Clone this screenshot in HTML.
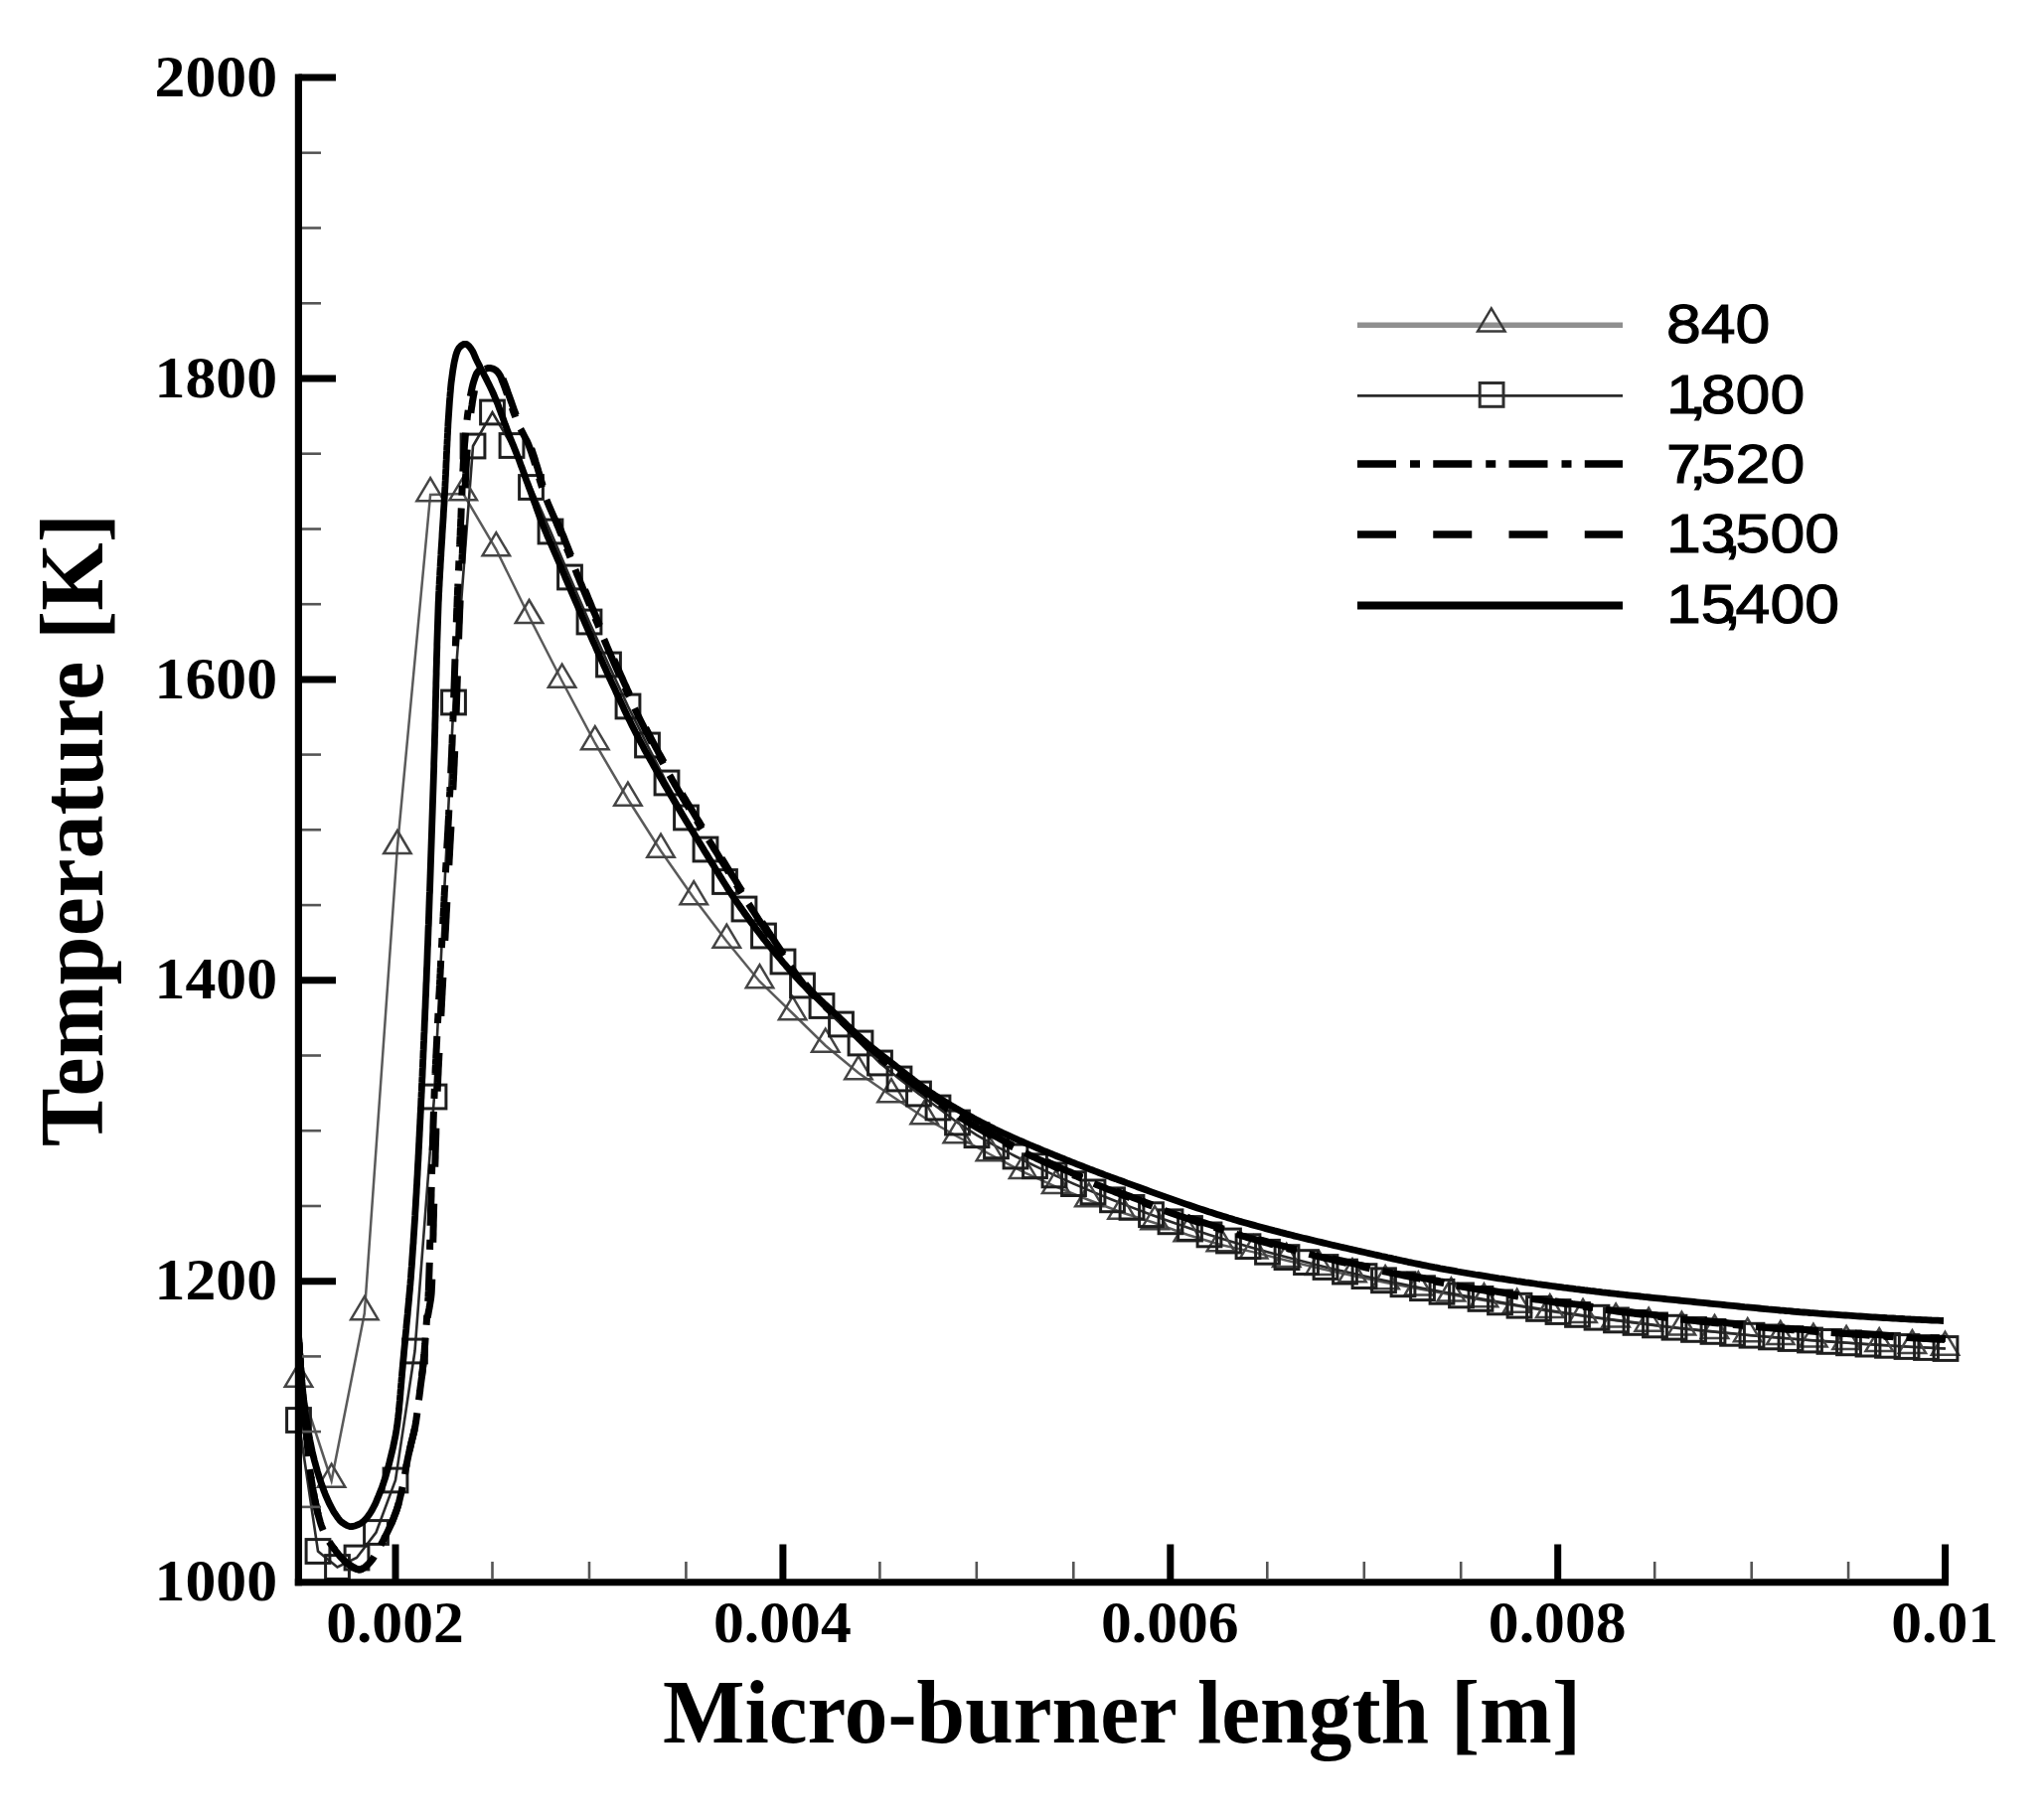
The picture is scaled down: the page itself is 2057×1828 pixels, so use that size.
<!DOCTYPE html>
<html lang="en">
<head>
<meta charset="utf-8">
<title>Temperature along micro-burner length</title>
<style>html,body{margin:0;padding:0;background:#fff}svg{display:block}</style>
</head>
<body>
<svg width="2057" height="1828" viewBox="0 0 2057 1828">
<rect width="2057" height="1828" fill="#fff"/>
<g fill="none" stroke-linejoin="miter">
<polyline points="300.5,1389.5 333.6,1490.5 366.8,1322 399.9,852.8 433.1,498 466.2,497 499.3,553 532.5,620.8 565.6,685.5 598.8,748 631.9,804.5 665,856.5 698.2,904 731.3,947.5 764.5,988 797.6,1020 830.7,1052.5 863.9,1080 897,1103 930.2,1125 963.3,1144 996.4,1162 1029.6,1179.7 1062.7,1194.7 1095.9,1208 1129,1220.5 1162.1,1231 1195.3,1243 1228.4,1253 1261.6,1260.4 1294.7,1268.8 1327.8,1276.7 1361,1284.1 1394.1,1291 1427.3,1297.3 1460.4,1303.3 1493.5,1309.1 1526.7,1314.6 1559.8,1319.9 1593,1324.7 1626.1,1329.2 1659.2,1333.5 1692.4,1337.4 1725.5,1340.8 1758.7,1344 1791.8,1346.8 1824.9,1349.4 1858.1,1351.7 1891.2,1353.9 1924.4,1355.9 1957.5,1357.6" stroke="#5a5a5a" stroke-width="2.5"/>
<polyline points="300.5,1429.5 320,1561.5 339.5,1577.5 359,1568 378.5,1542.5 398,1490 417.5,1360 437,1104 456.5,707 476,449 495.5,415 515,448.5 534.5,490.5 554,535 573.5,581 593,626 612.5,669 632,711 651.5,750 671,788 690.5,823 710,855 729.5,887.5 749,915 768.5,942 788,968 807.5,992 827,1012.5 846.5,1031 866,1050 885.5,1070 905,1086 924.5,1101 944,1115 963.5,1130 983,1142.7 1002.5,1153.8 1022,1164 1041.5,1173.7 1061,1182.9 1080.5,1191.6 1100,1199.9 1119.5,1207.8 1139,1215.4 1158.5,1222.7 1178,1229.8 1197.5,1236.5 1217,1242.9 1236.5,1249 1256,1254.7 1275.5,1260.3 1295,1265.6 1314.5,1270.6 1334,1275.5 1353.5,1280.1 1373,1284.6 1392.5,1288.8 1412,1292.8 1431.5,1296.7 1451,1300.3 1470.5,1303.9 1490,1307.4 1509.5,1310.9 1529,1314.2 1548.5,1317.4 1568,1320.5 1587.5,1323.4 1607,1326.2 1626.5,1328.9 1646,1331.4 1665.5,1333.9 1685,1336.2 1704.5,1338.4 1724,1340.4 1743.5,1342.3 1763,1344.2 1782.5,1345.9 1802,1347.5 1821.5,1349 1841,1350.4 1860.5,1351.8 1880,1353.1 1899.5,1354.3 1919,1355.5 1938.5,1356.5 1958,1357.5" stroke="#2a2a2a" stroke-width="2.6"/>
</g>
<g fill="none" stroke="#444" stroke-width="2.5">
<path d="M300.5 1372.7L314.2 1395.7L286.8 1395.7Z"/>
<path d="M333.6 1473.7L347.3 1496.7L319.9 1496.7Z"/>
<path d="M366.8 1305.2L380.5 1328.2L353.1 1328.2Z"/>
<path d="M399.9 836L413.6 859L386.2 859Z"/>
<path d="M433.1 481.2L446.8 504.2L419.4 504.2Z"/>
<path d="M466.2 480.2L479.9 503.2L452.5 503.2Z"/>
<path d="M499.3 536.2L513 559.2L485.6 559.2Z"/>
<path d="M532.5 604L546.2 627L518.8 627Z"/>
<path d="M565.6 668.7L579.3 691.7L551.9 691.7Z"/>
<path d="M598.8 731.2L612.5 754.2L585.1 754.2Z"/>
<path d="M631.9 787.7L645.6 810.7L618.2 810.7Z"/>
<path d="M665 839.7L678.7 862.7L651.3 862.7Z"/>
<path d="M698.2 887.2L711.9 910.2L684.5 910.2Z"/>
<path d="M731.3 930.7L745 953.7L717.6 953.7Z"/>
<path d="M764.5 971.2L778.2 994.2L750.8 994.2Z"/>
<path d="M797.6 1003.2L811.3 1026.2L783.9 1026.2Z"/>
<path d="M830.7 1035.7L844.4 1058.7L817 1058.7Z"/>
<path d="M863.9 1063.2L877.6 1086.2L850.2 1086.2Z"/>
<path d="M897 1086.2L910.7 1109.2L883.3 1109.2Z"/>
<path d="M930.2 1108.2L943.9 1131.2L916.5 1131.2Z"/>
<path d="M963.3 1127.2L977 1150.2L949.6 1150.2Z"/>
<path d="M996.4 1145.2L1010.1 1168.2L982.7 1168.2Z"/>
<path d="M1029.6 1162.9L1043.3 1185.9L1015.9 1185.9Z"/>
<path d="M1062.7 1177.9L1076.4 1200.9L1049 1200.9Z"/>
<path d="M1095.9 1191.2L1109.6 1214.2L1082.2 1214.2Z"/>
<path d="M1129 1203.7L1142.7 1226.7L1115.3 1226.7Z"/>
<path d="M1162.1 1214.2L1175.8 1237.2L1148.4 1237.2Z"/>
<path d="M1195.3 1226.2L1209 1249.2L1181.6 1249.2Z"/>
<path d="M1228.4 1236.2L1242.1 1259.2L1214.7 1259.2Z"/>
<path d="M1261.6 1243.6L1275.3 1266.6L1247.9 1266.6Z"/>
<path d="M1294.7 1252L1308.4 1275L1281 1275Z"/>
<path d="M1327.8 1259.9L1341.5 1282.9L1314.1 1282.9Z"/>
<path d="M1361 1267.3L1374.7 1290.3L1347.3 1290.3Z"/>
<path d="M1394.1 1274.2L1407.8 1297.2L1380.4 1297.2Z"/>
<path d="M1427.3 1280.5L1441 1303.5L1413.6 1303.5Z"/>
<path d="M1460.4 1286.5L1474.1 1309.5L1446.7 1309.5Z"/>
<path d="M1493.5 1292.3L1507.2 1315.3L1479.8 1315.3Z"/>
<path d="M1526.7 1297.8L1540.4 1320.8L1513 1320.8Z"/>
<path d="M1559.8 1303.1L1573.5 1326.1L1546.1 1326.1Z"/>
<path d="M1593 1307.9L1606.7 1330.9L1579.3 1330.9Z"/>
<path d="M1626.1 1312.4L1639.8 1335.4L1612.4 1335.4Z"/>
<path d="M1659.2 1316.7L1672.9 1339.7L1645.5 1339.7Z"/>
<path d="M1692.4 1320.6L1706.1 1343.6L1678.7 1343.6Z"/>
<path d="M1725.5 1324L1739.2 1347L1711.8 1347Z"/>
<path d="M1758.7 1327.2L1772.4 1350.2L1745 1350.2Z"/>
<path d="M1791.8 1330L1805.5 1353L1778.1 1353Z"/>
<path d="M1824.9 1332.6L1838.6 1355.6L1811.2 1355.6Z"/>
<path d="M1858.1 1334.9L1871.8 1357.9L1844.4 1357.9Z"/>
<path d="M1891.2 1337.1L1904.9 1360.1L1877.5 1360.1Z"/>
<path d="M1924.4 1339.1L1938.1 1362.1L1910.7 1362.1Z"/>
<path d="M1957.5 1340.8L1971.2 1363.8L1943.8 1363.8Z"/>
</g>
<g fill="none" stroke="#1e1e1e" stroke-width="3">
<rect x="288.6" y="1417.6" width="23.8" height="23.8"/>
<rect x="308.1" y="1549.6" width="23.8" height="23.8"/>
<rect x="327.6" y="1565.6" width="23.8" height="23.8"/>
<rect x="347.1" y="1556.1" width="23.8" height="23.8"/>
<rect x="366.6" y="1530.6" width="23.8" height="23.8"/>
<rect x="386.1" y="1478.1" width="23.8" height="23.8"/>
<rect x="405.6" y="1348.1" width="23.8" height="23.8"/>
<rect x="425.1" y="1092.1" width="23.8" height="23.8"/>
<rect x="444.6" y="695.1" width="23.8" height="23.8"/>
<rect x="464.1" y="437.1" width="23.8" height="23.8"/>
<rect x="483.6" y="403.1" width="23.8" height="23.8"/>
<rect x="503.1" y="436.6" width="23.8" height="23.8"/>
<rect x="522.6" y="478.6" width="23.8" height="23.8"/>
<rect x="542.1" y="523.1" width="23.8" height="23.8"/>
<rect x="561.6" y="569.1" width="23.8" height="23.8"/>
<rect x="581.1" y="614.1" width="23.8" height="23.8"/>
<rect x="600.6" y="657.1" width="23.8" height="23.8"/>
<rect x="620.1" y="699.1" width="23.8" height="23.8"/>
<rect x="639.6" y="738.1" width="23.8" height="23.8"/>
<rect x="659.1" y="776.1" width="23.8" height="23.8"/>
<rect x="678.6" y="811.1" width="23.8" height="23.8"/>
<rect x="698.1" y="843.1" width="23.8" height="23.8"/>
<rect x="717.6" y="875.6" width="23.8" height="23.8"/>
<rect x="737.1" y="903.1" width="23.8" height="23.8"/>
<rect x="756.6" y="930.1" width="23.8" height="23.8"/>
<rect x="776.1" y="956.1" width="23.8" height="23.8"/>
<rect x="795.6" y="980.1" width="23.8" height="23.8"/>
<rect x="815.1" y="1000.6" width="23.8" height="23.8"/>
<rect x="834.6" y="1019.1" width="23.8" height="23.8"/>
<rect x="854.1" y="1038.1" width="23.8" height="23.8"/>
<rect x="873.6" y="1058.1" width="23.8" height="23.8"/>
<rect x="893.1" y="1074.1" width="23.8" height="23.8"/>
<rect x="912.6" y="1089.1" width="23.8" height="23.8"/>
<rect x="932.1" y="1103.1" width="23.8" height="23.8"/>
<rect x="951.6" y="1118.1" width="23.8" height="23.8"/>
<rect x="971.1" y="1130.8" width="23.8" height="23.8"/>
<rect x="990.6" y="1141.9" width="23.8" height="23.8"/>
<rect x="1010.1" y="1152.1" width="23.8" height="23.8"/>
<rect x="1029.6" y="1161.8" width="23.8" height="23.8"/>
<rect x="1049.1" y="1171" width="23.8" height="23.8"/>
<rect x="1068.6" y="1179.7" width="23.8" height="23.8"/>
<rect x="1088.1" y="1188" width="23.8" height="23.8"/>
<rect x="1107.6" y="1195.9" width="23.8" height="23.8"/>
<rect x="1127.1" y="1203.5" width="23.8" height="23.8"/>
<rect x="1146.6" y="1210.8" width="23.8" height="23.8"/>
<rect x="1166.1" y="1217.9" width="23.8" height="23.8"/>
<rect x="1185.6" y="1224.6" width="23.8" height="23.8"/>
<rect x="1205.1" y="1231" width="23.8" height="23.8"/>
<rect x="1224.6" y="1237.1" width="23.8" height="23.8"/>
<rect x="1244.1" y="1242.8" width="23.8" height="23.8"/>
<rect x="1263.6" y="1248.4" width="23.8" height="23.8"/>
<rect x="1283.1" y="1253.7" width="23.8" height="23.8"/>
<rect x="1302.6" y="1258.7" width="23.8" height="23.8"/>
<rect x="1322.1" y="1263.6" width="23.8" height="23.8"/>
<rect x="1341.6" y="1268.2" width="23.8" height="23.8"/>
<rect x="1361.1" y="1272.7" width="23.8" height="23.8"/>
<rect x="1380.6" y="1276.9" width="23.8" height="23.8"/>
<rect x="1400.1" y="1280.9" width="23.8" height="23.8"/>
<rect x="1419.6" y="1284.8" width="23.8" height="23.8"/>
<rect x="1439.1" y="1288.4" width="23.8" height="23.8"/>
<rect x="1458.6" y="1292" width="23.8" height="23.8"/>
<rect x="1478.1" y="1295.5" width="23.8" height="23.8"/>
<rect x="1497.6" y="1299" width="23.8" height="23.8"/>
<rect x="1517.1" y="1302.3" width="23.8" height="23.8"/>
<rect x="1536.6" y="1305.5" width="23.8" height="23.8"/>
<rect x="1556.1" y="1308.6" width="23.8" height="23.8"/>
<rect x="1575.6" y="1311.5" width="23.8" height="23.8"/>
<rect x="1595.1" y="1314.3" width="23.8" height="23.8"/>
<rect x="1614.6" y="1317" width="23.8" height="23.8"/>
<rect x="1634.1" y="1319.5" width="23.8" height="23.8"/>
<rect x="1653.6" y="1322" width="23.8" height="23.8"/>
<rect x="1673.1" y="1324.3" width="23.8" height="23.8"/>
<rect x="1692.6" y="1326.5" width="23.8" height="23.8"/>
<rect x="1712.1" y="1328.5" width="23.8" height="23.8"/>
<rect x="1731.6" y="1330.4" width="23.8" height="23.8"/>
<rect x="1751.1" y="1332.3" width="23.8" height="23.8"/>
<rect x="1770.6" y="1334" width="23.8" height="23.8"/>
<rect x="1790.1" y="1335.6" width="23.8" height="23.8"/>
<rect x="1809.6" y="1337.1" width="23.8" height="23.8"/>
<rect x="1829.1" y="1338.5" width="23.8" height="23.8"/>
<rect x="1848.6" y="1339.9" width="23.8" height="23.8"/>
<rect x="1868.1" y="1341.2" width="23.8" height="23.8"/>
<rect x="1887.6" y="1342.4" width="23.8" height="23.8"/>
<rect x="1907.1" y="1343.6" width="23.8" height="23.8"/>
<rect x="1926.6" y="1344.6" width="23.8" height="23.8"/>
<rect x="1946.1" y="1345.6" width="23.8" height="23.8"/>
</g>
<g fill="none" stroke="#000" stroke-linejoin="round">
<polyline points="484,372 481.4,373.6 479.7,375.9 478.5,378.7 477.5,381.6 476.6,384.4 475.8,387.3 475.1,390.2 474.5,393.2 473.9,396.1 473.3,399.1 472.8,402 472.3,405 471.9,407.9 471.5,410.9 471.1,413.9 470.7,416.8 470.3,419.8 470,422.8 469.6,425.8 469.3,428.7 469,431.7 468.7,434.7 468.4,437.7 468.1,440.7 467.9,443.7 467.6,446.6 467.4,449.6 467.2,452.6 467,455.6 466.8,458.6 466.6,461.6 466.4,464.6 466.2,467.6 466.1,470.5 465.9,473.5 465.8,476.5 465.6,479.5 465.5,482.5 465.4,485.5 465.2,488.5 465.1,491.5 465,494.5 464.9,497.5 464.7,500.5 464.6,503.5 464.5,506.5 464.4,509.4 464.2,512.4 464.1,515.4 464,518.4 463.9,521.4 463.7,524.4 463.6,527.4 463.5,530.4 463.3,533.4 463.2,536.4 463.1,539.4 462.9,542.4 462.8,545.4 462.7,548.4 462.5,551.3 462.4,554.3 462.2,557.3 462.1,560.3 462,563.3 461.8,566.3 461.7,569.3 461.6,572.3 461.4,575.3 461.3,578.3 461.2,581.3 461,584.3 460.9,587.2 460.8,590.2 460.6,593.2 460.5,596.2 460.4,599.2 460.2,602.2 460.1,605.2 460,608.2 459.9,611.2 459.7,614.2 459.6,617.2 459.5,620.2 459.4,623.2 459.3,626.1 459.1,629.1 459,632.1 458.9,635.1 458.8,638.1 458.7,641.1 458.6,644.1 458.5,647.1 458.4,650.1 458.3,653.1 458.2,656.1 458.1,659.1 458,662.1 457.9,665.1 457.8,668.1 457.7,671 457.6,674 457.5,677 457.4,680 457.3,683 457.2,686 457.1,689 457,692 456.9,695 456.8,698 456.7,701 456.6,704 456.5,707 456.4,710 456.3,713 456.2,716 456.1,718.9 456,721.9 455.9,724.9 455.7,727.9 455.6,730.9 455.5,733.9 455.4,736.9 455.3,739.9 455.2,742.9 455.1,745.9 455,748.9 454.8,751.9 454.7,754.9 454.6,757.9 454.5,760.8 454.3,763.8 454.2,766.8 454.1,769.8 453.9,772.8 453.8,775.8 453.7,778.8 453.5,781.8 453.4,784.8 453.2,787.8 453.1,790.8 452.9,793.8 452.8,796.7 452.6,799.7 452.5,802.7 452.3,805.7 452.2,808.7 452,811.7 451.9,814.7 451.7,817.7 451.6,820.7 451.4,823.7 451.2,826.7 451.1,829.6 450.9,832.6 450.8,835.6 450.6,838.6 450.4,841.6 450.3,844.6 450.1,847.6 449.9,850.6 449.8,853.6 449.6,856.6 449.5,859.6 449.3,862.5 449.1,865.5 449,868.5 448.8,871.5 448.6,874.5 448.5,877.5 448.3,880.5 448.1,883.5 448,886.5 447.8,889.5 447.7,892.5 447.5,895.4 447.3,898.4 447.2,901.4 447,904.4 446.9,907.4 446.7,910.4 446.6,913.4 446.4,916.4 446.2,919.4 446.1,922.4 445.9,925.4 445.8,928.3 445.6,931.3 445.5,934.3 445.3,937.3 445.1,940.3 445,943.3 444.8,946.3 444.7,949.3 444.5,952.3 444.3,955.3 444.2,958.3 444,961.2 443.9,964.2 443.7,967.2 443.5,970.2 443.4,973.2 443.2,976.2 443.1,979.2 442.9,982.2 442.8,985.2 442.6,988.2 442.5,991.2 442.3,994.1 442.2,997.1 442,1000.1 441.8,1003.1 441.7,1006.1 441.5,1009.1 441.4,1012.1 441.2,1015.1 441.1,1018.1 440.9,1021.1 440.8,1024.1 440.6,1027.1 440.5,1030 440.3,1033 440.2,1036 440,1039 439.9,1042 439.7,1045 439.6,1048 439.4,1051 439.3,1054 439.1,1057 439,1060 438.8,1063 438.7,1065.9 438.5,1068.9 438.4,1071.9 438.2,1074.9 438.1,1077.9 438,1080.9 437.8,1083.9 437.7,1086.9 437.6,1089.9 437.4,1092.9 437.3,1095.9 437.2,1098.9 437.1,1101.8 437,1104.8 436.9,1107.8 436.8,1110.8 436.6,1113.8 436.5,1116.8 436.4,1119.8 436.3,1122.8 436.2,1125.8 436.1,1128.8 436,1131.8 435.9,1134.8 435.9,1137.8 435.8,1140.8 435.7,1143.8 435.6,1146.7 435.5,1149.7 435.4,1152.7 435.3,1155.7 435.2,1158.7 435.1,1161.7 435.1,1164.7 435,1167.7 434.9,1170.7 434.8,1173.7 434.7,1176.7 434.6,1179.7 434.5,1182.7 434.5,1185.7 434.4,1188.7 434.3,1191.7 434.2,1194.7 434.1,1197.6 434,1200.6 434,1203.6 433.9,1206.6 433.8,1209.6 433.7,1212.6 433.6,1215.6 433.5,1218.6 433.5,1221.6 433.4,1224.6 433.3,1227.6 433.2,1230.6 433.1,1233.6 433.1,1236.6 433,1239.6 432.9,1242.6 432.8,1245.6 432.8,1248.5 432.7,1251.5 432.6,1254.5 432.6,1257.5 432.5,1260.5 432.4,1263.5 432.3,1266.5 432.3,1269.5 432.2,1272.5 432.1,1275.5 432,1278.5 431.9,1281.5 431.8,1284.5 431.7,1287.5 431.6,1290.5 431.5,1293.5 431.4,1296.4 431.3,1299.4 431.1,1302.4 431,1305.4 430.8,1308.4 430.7,1311.4 430.5,1314.4 430.3,1317.4 430.1,1320.4 429.8,1323.4 429.6,1326.3 429.4,1329.3 429.2,1332.3 429,1335.3 428.8,1338.3 428.6,1341.3 428.3,1344.3 428.1,1347.3 427.9,1350.2 427.7,1353.2 427.4,1356.2 427.2,1359.2 427,1362.2 426.7,1365.2 426.4,1368.2 426.1,1371.1 425.8,1374.1 425.5,1377.1 425.2,1380.1 424.8,1383 424.5,1386 424.1,1389 423.7,1392 423.3,1394.9 422.9,1397.9 422.5,1400.9 422.2,1403.8 421.8,1406.8 421.4,1409.8 421,1412.8 420.7,1415.7 420.3,1418.7 419.9,1421.7 419.5,1424.7 419.1,1427.6 418.7,1430.6 418.2,1433.5 417.7,1436.5 417.1,1439.4 416.4,1442.3 415.7,1445.2 415,1448.1 414.2,1451.1 413.5,1454 412.9,1456.9 412.2,1459.8 411.5,1462.7 410.9,1465.7 410.3,1468.6 409.7,1471.5 409.1,1474.5 408.6,1477.4 408.1,1480.4 407.6,1483.3 407.1,1486.3 406.5,1489.2 406,1492.2 405.4,1495.1 404.8,1498 404.2,1501 403.5,1503.9 402.8,1506.8 402.1,1509.7 401.4,1512.6 400.6,1515.5 399.7,1518.4 398.7,1521.2 397.7,1524 396.6,1526.8 395.6,1529.6 394.4,1532.4 393.2,1535.1 392,1537.9 390.7,1540.6 389.4,1543.3 388,1545.9 386.7,1548.6 385.3,1551.3 383.9,1553.9 382.5,1556.6 381.1,1559.2 379.5,1561.8 378,1564.4 376.5,1567 374.8,1569.6 373,1571.9 371,1574 368.7,1576.3 366.1,1578.4 363.5,1579.7 360.9,1579.9 358.2,1579.1 355.4,1577.6 352.7,1575.9 350.2,1574.1 347.9,1572.4 345.7,1570.4 343.6,1568.2 341.6,1565.9 339.6,1563.5 337.8,1561.1 336,1558.7 334.3,1556.3 332.5,1553.8 330.9,1551.2 329.3,1548.6 327.8,1546 326.5,1543.3 325.3,1540.6 324.2,1537.9 323.2,1535.1 322.3,1532.3 321.5,1529.4 320.7,1526.5 319.9,1523.5 319.2,1520.6 318.6,1517.6 317.9,1514.7 317.3,1511.8 316.7,1508.9 316.1,1505.9 315.6,1503 315.1,1500 314.5,1497.1 314,1494.1 313.6,1491.2 313.1,1488.2 312.7,1485.2 312.3,1482.3 311.9,1479.3 311.5,1476.3 311.2,1473.3 310.9,1470.4 310.6,1467.4 310.3,1464.4 310,1461.4 309.7,1458.4 309.4,1455.5 309.1,1452.5 308.9,1449.5 308.6,1446.5 308.3,1443.5 308.1,1440.5 307.8,1437.6 307.5,1434.6 307.2,1431.6 306.9,1428.6 306.7,1425.6 306.4,1422.6 306.1,1419.7 305.8,1416.7 305.6,1413.7 305.3,1410.7 305,1407.7 304.8,1404.7 304.5,1401.8 304.3,1398.8 304.1,1395.8 303.8,1392.8 303.6,1389.8 303.4,1386.8 303.1,1383.8 302.9,1380.9 302.7,1377.9 302.5,1374.9 302.3,1371.9 302.1,1368.9 301.9,1365.9 301.6,1362.9 301.4,1359.9 301.2,1357 301.1,1354 300.9,1351 300.7,1348 300.5,1345" stroke-width="7" stroke-dasharray="39 14 10 13" stroke-dashoffset="9"/>
<polyline points="477.5,393 477,396 476.4,398.9 475.9,401.9 475.4,404.8 475,407.8 474.5,410.7 474.1,413.7 473.7,416.7 473.4,419.6 473,422.6 472.7,425.6 472.3,428.6 472,431.6 471.7,434.5 471.4,437.5 471.1,440.5 470.9,443.5 470.6,446.5 470.4,449.5 470.2,452.5 470,455.4 469.8,458.4 469.6,461.4 469.4,464.4 469.3,467.4 469.1,470.4 468.9,473.4 468.8,476.4 468.6,479.4 468.5,482.4 468.4,485.3 468.2,488.3 468.1,491.3 468,494.3 467.9,497.3 467.7,500.3 467.6,503.3 467.5,506.3 467.4,509.3 467.3,512.3 467.1,515.3 467,518.3 466.9,521.3 466.8,524.3 466.6,527.3 466.5,530.3 466.4,533.3 466.2,536.2 466.1,539.2 465.9,542.2 465.8,545.2 465.7,548.2 465.5,551.2 465.4,554.2 465.3,557.2 465.1,560.2 465,563.2 464.8,566.2 464.7,569.2 464.6,572.2 464.4,575.2 464.3,578.2 464.2,581.1 464,584.1 463.9,587.1 463.8,590.1 463.6,593.1 463.5,596.1 463.4,599.1 463.2,602.1 463.1,605.1 463,608.1 462.9,611.1 462.7,614.1 462.6,617.1 462.5,620.1 462.4,623.1 462.3,626 462.1,629 462,632 461.9,635 461.8,638 461.7,641 461.6,644 461.5,647 461.4,650 461.3,653 461.2,656 461.1,659 461,662 460.9,665 460.8,668 460.7,671 460.6,674 460.5,677 460.4,679.9 460.3,682.9 460.2,685.9 460.1,688.9 460,691.9 459.9,694.9 459.8,697.9 459.7,700.9 459.6,703.9 459.5,706.9 459.4,709.9 459.3,712.9 459.2,715.9 459.1,718.9 459,721.9 458.9,724.9 458.7,727.9 458.6,730.9 458.5,733.8 458.4,736.8 458.3,739.8 458.2,742.8 458.1,745.8 458,748.8 457.8,751.8 457.7,754.8 457.6,757.8 457.5,760.8 457.3,763.8 457.2,766.8 457.1,769.8 456.9,772.8 456.8,775.8 456.7,778.7 456.5,781.7 456.4,784.7 456.2,787.7 456.1,790.7 455.9,793.7 455.8,796.7 455.6,799.7 455.5,802.7 455.3,805.7 455.2,808.7 455,811.7 454.9,814.7 454.7,817.6 454.6,820.6 454.4,823.6 454.2,826.6 454.1,829.6 453.9,832.6 453.8,835.6 453.6,838.6 453.4,841.6 453.3,844.6 453.1,847.6 452.9,850.6 452.8,853.5 452.6,856.5 452.5,859.5 452.3,862.5 452.1,865.5 452,868.5 451.8,871.5 451.6,874.5 451.5,877.5 451.3,880.5 451.1,883.5 451,886.5 450.8,889.5 450.7,892.4 450.5,895.4 450.3,898.4 450.2,901.4 450,904.4 449.9,907.4 449.7,910.4 449.6,913.4 449.4,916.4 449.2,919.4 449.1,922.4 448.9,925.4 448.8,928.3 448.6,931.3 448.5,934.3 448.3,937.3 448.1,940.3 448,943.3 447.8,946.3 447.7,949.3 447.5,952.3 447.3,955.3 447.2,958.3 447,961.3 446.9,964.3 446.7,967.2 446.5,970.2 446.4,973.2 446.2,976.2 446.1,979.2 445.9,982.2 445.8,985.2 445.6,988.2 445.5,991.2 445.3,994.2 445.1,997.2 445,1000.2 444.8,1003.1 444.7,1006.1 444.5,1009.1 444.4,1012.1 444.2,1015.1 444.1,1018.1 443.9,1021.1 443.8,1024.1 443.6,1027.1 443.5,1030.1 443.3,1033.1 443.2,1036.1 443,1039.1 442.9,1042.1 442.7,1045 442.6,1048 442.4,1051 442.3,1054 442.1,1057 442,1060 441.8,1063 441.7,1066 441.5,1069 441.4,1072 441.2,1075 441.1,1078 441,1081 440.8,1083.9 440.7,1086.9 440.6,1089.9 440.4,1092.9 440.3,1095.9 440.2,1098.9 440.1,1101.9 440,1104.9 439.9,1107.9 439.7,1110.9 439.6,1113.9 439.5,1116.9 439.4,1119.9 439.3,1122.9 439.2,1125.9 439.1,1128.9 439,1131.9 438.9,1134.8 438.8,1137.8 438.8,1140.8 438.7,1143.8 438.6,1146.8 438.5,1149.8 438.4,1152.8 438.3,1155.8 438.2,1158.8 438.1,1161.8 438.1,1164.8 438,1167.8 437.9,1170.8 437.8,1173.8 437.7,1176.8 437.6,1179.8 437.5,1182.8 437.5,1185.8 437.4,1188.8 437.3,1191.8 437.2,1194.7 437.1,1197.7 437,1200.7 437,1203.7 436.9,1206.7 436.8,1209.7 436.7,1212.7 436.6,1215.7 436.5,1218.7 436.5,1221.7 436.4,1224.7 436.3,1227.7 436.2,1230.7 436.2,1233.7 436.1,1236.7 436,1239.7 436,1242.7 435.9,1245.7 435.8,1248.7 435.8,1251.7 435.7,1254.7 435.7,1257.7 435.6,1260.7 435.5,1263.7 435.5,1266.7 435.4,1269.7 435.3,1272.7 435.2,1275.7 435.1,1278.7 435,1281.7 434.9,1284.7 434.8,1287.6 434.7,1290.6 434.6,1293.6 434.4,1296.6 434.3,1299.6 434.1,1302.5 433.8,1305.5 433.4,1308.5 432.9,1311.4 432.4,1314.4 431.9,1317.4 431.3,1320.3 430.8,1323.3 430.2,1326.2 429.8,1329.2 429.3,1332.2 429,1335.1 428.7,1338.1 428.4,1341.1 428.2,1344.1 428,1347.1 427.8,1350.1 427.6,1353 427.3,1356 427.1,1359 426.9,1362 426.7,1365 426.4,1368 426.2,1371 425.9,1374 425.5,1376.9 425.2,1379.9 424.8,1382.9 424.5,1385.9 424.1,1388.8 423.7,1391.8 423.3,1394.8 422.9,1397.7 422.6,1400.7 422.2,1403.7 421.8,1406.7 421.4,1409.6 421,1412.6 420.7,1415.6 420.3,1418.6 419.9,1421.5 419.5,1424.5 419.1,1427.5 418.7,1430.5 418.2,1433.4 417.7,1436.4 417.1,1439.3 416.5,1442.2 415.7,1445.1 415,1448 414.3,1450.9 413.6,1453.8 412.9,1456.8 412.2,1459.7 411.6,1462.6 410.9,1465.5 410.3,1468.5 409.7,1471.4 409.2,1474.3 408.6,1477.3 408.1,1480.2 407.6,1483.2 407.1,1486.2 406.6,1489.1 406,1492 405.4,1495 404.8,1497.9 404.2,1500.9 403.5,1503.8 402.9,1506.7 402.2,1509.6 401.4,1512.5 400.6,1515.4 399.7,1518.2 398.8,1521.1 397.7,1523.9 396.7,1526.7 395.6,1529.5 394.5,1532.3 393.3,1535 392,1537.8 390.7,1540.5 389.4,1543.2 388.1,1545.8 386.7,1548.5 385.4,1551.2 384,1553.9 382.6,1556.5 381.1,1559.1 379.6,1561.7 378.1,1564.3 376.5,1567 374.8,1569.5 373.1,1571.8 371.1,1574 368.7,1576.3 366.2,1578.3 363.6,1579.7 361,1579.9 358.3,1579.1 355.5,1577.7 352.8,1575.9 350.2,1574.2 347.9,1572.4 345.7,1570.4 343.6,1568.2 341.6,1565.9 339.7,1563.5 337.8,1561.1 336.1,1558.7 334.3,1556.3 332.6,1553.8 330.9,1551.3 329.3,1548.7 327.8,1546.1 326.5,1543.4 325.3,1540.7 324.2,1538 323.3,1535.2 322.3,1532.3 321.5,1529.4 320.7,1526.5 320,1523.6 319.3,1520.6 318.6,1517.7 318,1514.8 317.3,1511.9 316.7,1508.9 316.2,1506 315.6,1503 315.1,1500.1 314.5,1497.1 314.1,1494.2 313.6,1491.2 313.1,1488.2 312.7,1485.3 312.3,1482.3 311.9,1479.3 311.6,1476.4 311.2,1473.4 310.9,1470.4 310.6,1467.4 310.3,1464.5 310,1461.5 309.7,1458.5 309.4,1455.5 309.1,1452.5 308.9,1449.5 308.6,1446.5 308.3,1443.6 308.1,1440.6 307.8,1437.6 307.5,1434.6 307.2,1431.6 306.9,1428.6 306.7,1425.7 306.4,1422.7 306.1,1419.7 305.8,1416.7 305.6,1413.7 305.3,1410.7 305.1,1407.8 304.8,1404.8 304.5,1401.8 304.3,1398.8 304.1,1395.8 303.8,1392.8 303.6,1389.8 303.4,1386.8 303.1,1383.9 302.9,1380.9 302.7,1377.9 302.5,1374.9 302.3,1371.9 302.1,1368.9 301.9,1365.9 301.6,1362.9 301.4,1360 301.3,1357 301.1,1354 300.9,1351 300.7,1348 300.5,1345" stroke-width="7" stroke-dasharray="39 37" stroke-dashoffset="16"/>
<polyline points="488,371.5 490.9,370.6 493.9,370.6 496.8,371.4 499.3,373 501.4,375.2 503,377.6 504.3,380.3 505.4,383.2 506.5,386 507.6,388.8 508.6,391.7 509.6,394.5 510.5,397.3 511.6,400.1 512.6,403 513.6,405.8 514.6,408.6 515.6,411.4 516.6,414.3 517.7,417.1 518.7,419.9 519.8,422.7 521,425.4 522.1,428.2 523.4,430.9 524.8,433.5 526.2,436.2 527.6,438.8 529,441.5 530.4,444.2 531.6,446.9 532.7,449.7 533.7,452.5 534.7,455.3 535.6,458.1 536.6,461 537.5,463.9 538.3,466.7 539.2,469.6 540.1,472.5 540.9,475.3 541.8,478.2 542.6,481.1 543.4,484 544.3,486.8 545.2,489.7 546.2,492.5 547.2,495.4 548.2,498.2 549.2,501 550.3,503.8 551.4,506.5 552.6,509.3 553.8,512.1 555,514.8 556.2,517.6 557.4,520.3 558.6,523 559.8,525.8 560.9,528.6 562.1,531.3 563.2,534.1 564.3,536.9 565.5,539.6 566.6,542.4 567.7,545.2 568.8,548 569.9,550.8 571,553.6 572.1,556.3 573.2,559.1 574.3,561.9 575.5,564.7 576.6,567.5 577.7,570.2 578.8,573 579.9,575.8 581,578.6 582.2,581.4 583.3,584.1 584.4,586.9 585.6,589.7 586.7,592.5 587.8,595.2 589,598 590.1,600.8 591.2,603.5 592.4,606.3 593.5,609.1 594.6,611.9 595.8,614.6 596.9,617.4 598.1,620.2 599.2,622.9 600.4,625.7 601.6,628.4 602.7,631.2 603.9,634 605,636.7 606.2,639.5 607.3,642.3 608.5,645 609.7,647.8 610.8,650.5 612,653.3 613.2,656.1 614.3,658.8 615.5,661.6 616.7,664.3 617.9,667.1 619.1,669.8 620.3,672.6 621.5,675.3 622.7,678.1 623.9,680.8 625.1,683.5 626.3,686.3 627.5,689 628.8,691.7 630,694.5 631.3,697.2 632.5,699.9 633.8,702.6 635,705.3 636.3,708 637.6,710.8 638.9,713.5 640.2,716.2 641.5,718.9 642.8,721.6 644.1,724.3 645.4,726.9 646.8,729.6 648.1,732.3 649.4,735 650.8,737.6 652.2,740.3 653.5,743 654.9,745.6 656.3,748.3 657.7,750.9 659.1,753.6 660.5,756.2 661.9,758.9 663.4,761.5 664.8,764.1 666.3,766.7 667.7,769.4 669.2,772 670.6,774.6 672.1,777.2 673.6,779.8 675.1,782.4 676.5,785 678,787.6 679.5,790.2 681,792.8 682.5,795.4 684.1,798 685.6,800.5 687.1,803.1 688.7,805.7 690.2,808.2 691.8,810.8 693.3,813.4 694.9,815.9 696.5,818.5 698,821 699.6,823.6 701.2,826.1 702.8,828.7 704.3,831.2 705.9,833.8 707.5,836.3 709.1,838.8 710.7,841.4 712.2,843.9 713.8,846.5 715.4,849 717,851.6 718.5,854.1 720.1,856.7 721.7,859.2 723.3,861.8 724.8,864.3 726.4,866.9 728,869.4 729.6,872 731.1,874.5 732.7,877.1 734.3,879.6 735.9,882.2 737.5,884.7 739.1,887.2 740.7,889.8 742.2,892.3 743.8,894.8 745.4,897.4 747,899.9 748.6,902.4 750.3,905 751.9,907.5 753.5,910 755.1,912.5 756.7,915 758.4,917.6 760,920.1 761.6,922.6 763.2,925.1 764.9,927.6 766.5,930.1 768.1,932.6 769.8,935.1 771.4,937.7 773.1,940.2 774.7,942.7 776.4,945.1 778.1,947.6 779.7,950.1 781.4,952.6 783.1,955.1 784.8,957.6 786.5,960 788.2,962.5 789.9,964.9 791.6,967.4 793.4,969.8 795.1,972.3 796.9,974.7 798.6,977.1 800.4,979.6 802.1,982 803.9,984.4 805.7,986.8 807.5,989.2 809.4,991.5 811.3,993.8 813.2,996.1 815.2,998.3 817.3,1000.5 819.4,1002.6 821.5,1004.7 823.7,1006.8 825.8,1008.9 828,1011 830.2,1013 832.4,1015.1 834.6,1017.1 836.8,1019.1 839,1021.1 841.3,1023.1 843.5,1025.1 845.7,1027.1 847.9,1029.2 850.1,1031.2 852.3,1033.3 854.4,1035.4 856.6,1037.5 858.7,1039.6 860.8,1041.7 862.9,1043.8 865,1046 867.1,1048.1 869.3,1050.2 871.4,1052.3 873.6,1054.4 875.7,1056.5 877.9,1058.5 880.1,1060.5 882.4,1062.4 884.7,1064.4 887,1066.3 889.3,1068.2 891.6,1070.1 893.9,1072 896.2,1073.9 898.6,1075.7 901,1077.6 903.3,1079.4 905.7,1081.2 908.1,1083 910.5,1084.9 912.9,1086.7 915.3,1088.5 917.7,1090.3 920.1,1092.1 922.5,1093.9 924.9,1095.7 927.3,1097.5 929.7,1099.3 932.1,1101 934.5,1102.8 936.9,1104.6 939.3,1106.4 941.8,1108.1 944.2,1109.9 946.7,1111.6 949.1,1113.3 951.6,1115 954,1116.7 956.5,1118.4 959,1120 961.5,1121.6 964,1123.3 966.6,1124.9 969.1,1126.5 971.7,1128 974.2,1129.6 976.8,1131.2 979.3,1132.7 981.9,1134.2 984.5,1135.8 987.1,1137.3 989.7,1138.8 992.3,1140.2 994.9,1141.7 997.5,1143.1 1000.2,1144.6 1002.8,1146 1005.4,1147.4 1008.1,1148.8 1010.7,1150.2 1013.4,1151.5 1016.1,1152.9 1018.7,1154.3 1021.4,1155.6 1024.1,1156.9 1026.8,1158.3 1029.5,1159.6 1032.2,1160.9 1034.9,1162.2 1037.6,1163.5 1040.3,1164.7 1043,1166 1045.8,1167.3 1048.5,1168.5 1051.2,1169.8 1053.9,1171 1056.6,1172.3 1059.4,1173.5 1062.1,1174.8 1064.8,1176 1067.6,1177.2 1070.3,1178.4 1073,1179.6 1075.8,1180.8 1078.5,1182 1081.3,1183.2 1084.1,1184.3 1086.8,1185.5 1089.6,1186.7 1092.3,1187.8 1095.1,1189 1097.9,1190.1 1100.7,1191.3 1103.4,1192.4 1106.2,1193.5 1109,1194.6 1111.8,1195.8 1114.5,1196.9 1117.3,1198 1120.1,1199.1 1122.9,1200.2 1125.7,1201.3 1128.5,1202.4 1131.3,1203.4 1134.1,1204.5 1136.9,1205.6 1139.7,1206.7 1142.5,1207.7 1145.3,1208.8 1148.1,1209.9 1150.9,1210.9 1153.7,1212 1156.5,1213 1159.3,1214 1162.1,1215.1 1164.9,1216.1 1167.7,1217.1 1170.6,1218.1 1173.4,1219.1 1176.2,1220.1 1179,1221.1 1181.9,1222.1 1184.7,1223.1 1187.5,1224.1 1190.4,1225 1193.2,1226 1196,1227 1198.9,1227.9 1201.7,1228.9 1204.5,1229.8 1207.4,1230.7 1210.2,1231.7 1213.1,1232.6 1215.9,1233.5 1218.8,1234.4 1221.7,1235.3 1224.5,1236.2 1227.4,1237.1 1230.2,1238 1233.1,1238.9 1236,1239.8 1238.8,1240.7 1241.7,1241.5 1244.6,1242.4 1247.4,1243.2 1250.3,1244.1 1253.2,1244.9 1256,1245.8 1258.9,1246.6 1261.8,1247.4 1264.7,1248.2 1267.6,1249.1 1270.5,1249.9 1273.3,1250.7 1276.2,1251.5 1279.1,1252.3 1282,1253.1 1284.9,1253.9 1287.8,1254.6 1290.7,1255.4 1293.6,1256.2 1296.5,1257 1299.4,1257.7 1302.3,1258.5 1305.2,1259.2 1308.1,1260 1311,1260.7 1313.9,1261.5 1316.8,1262.2 1319.7,1262.9 1322.6,1263.7 1325.5,1264.4 1328.4,1265.1 1331.3,1265.8 1334.2,1266.5 1337.1,1267.2 1340,1267.9 1343,1268.6 1345.9,1269.3 1348.8,1270 1351.7,1270.7 1354.6,1271.4 1357.5,1272.1 1360.5,1272.7 1363.4,1273.4 1366.3,1274.1 1369.2,1274.7 1372.1,1275.4 1375.1,1276 1378,1276.7 1380.9,1277.3 1383.8,1277.9 1386.8,1278.5 1389.7,1279.2 1392.6,1279.8 1395.6,1280.4 1398.5,1281 1401.4,1281.6 1404.4,1282.2 1407.3,1282.8 1410.2,1283.4 1413.2,1284 1416.1,1284.6 1419.1,1285.2 1422,1285.8 1424.9,1286.3 1427.9,1286.9 1430.8,1287.5 1433.8,1288.1 1436.7,1288.6 1439.6,1289.2 1442.6,1289.8 1445.5,1290.3 1448.5,1290.9 1451.4,1291.4 1454.4,1292 1457.3,1292.5 1460.2,1293 1463.2,1293.6 1466.1,1294.1 1469.1,1294.7 1472,1295.2 1475,1295.7 1477.9,1296.3 1480.9,1296.8 1483.8,1297.3 1486.8,1297.9 1489.7,1298.4 1492.7,1298.9 1495.6,1299.4 1498.6,1300 1501.5,1300.5 1504.5,1301 1507.4,1301.5 1510.4,1302 1513.3,1302.5 1516.3,1303 1519.2,1303.5 1522.2,1304 1525.1,1304.5 1528.1,1305 1531.1,1305.5 1534,1306 1537,1306.5 1539.9,1307 1542.9,1307.5 1545.8,1308 1548.8,1308.4 1551.8,1308.9 1554.7,1309.4 1557.7,1309.9 1560.6,1310.3 1563.6,1310.8 1566.5,1311.2 1569.5,1311.7 1572.5,1312.1 1575.4,1312.6 1578.4,1313 1581.4,1313.5 1584.3,1313.9 1587.3,1314.3 1590.2,1314.8 1593.2,1315.2 1596.2,1315.6 1599.1,1316 1602.1,1316.5 1605.1,1316.9 1608,1317.3 1611,1317.7 1614,1318.1 1616.9,1318.5 1619.9,1318.9 1622.9,1319.4 1625.8,1319.8 1628.8,1320.2 1631.8,1320.6 1634.7,1321 1637.7,1321.4 1640.7,1321.7 1643.7,1322.1 1646.6,1322.5 1649.6,1322.9 1652.6,1323.3 1655.5,1323.7 1658.5,1324 1661.5,1324.4 1664.5,1324.8 1667.4,1325.2 1670.4,1325.5 1673.4,1325.9 1676.4,1326.2 1679.3,1326.6 1682.3,1326.9 1685.3,1327.3 1688.3,1327.6 1691.2,1328 1694.2,1328.3 1697.2,1328.6 1700.2,1329 1703.1,1329.3 1706.1,1329.6 1709.1,1329.9 1712.1,1330.2 1715.1,1330.5 1718,1330.8 1721,1331.1 1724,1331.4 1727,1331.7 1730,1332 1732.9,1332.3 1735.9,1332.6 1738.9,1332.9 1741.9,1333.2 1744.9,1333.5 1747.8,1333.8 1750.8,1334 1753.8,1334.3 1756.8,1334.6 1759.8,1334.9 1762.8,1335.1 1765.7,1335.4 1768.7,1335.7 1771.7,1335.9 1774.7,1336.2 1777.7,1336.5 1780.7,1336.7 1783.6,1337 1786.6,1337.2 1789.6,1337.5 1792.6,1337.7 1795.6,1338 1798.6,1338.2 1801.6,1338.4 1804.6,1338.7 1807.5,1338.9 1810.5,1339.2 1813.5,1339.4 1816.5,1339.6 1819.5,1339.8 1822.5,1340.1 1825.5,1340.3 1828.4,1340.5 1831.4,1340.7 1834.4,1341 1837.4,1341.2 1840.4,1341.4 1843.4,1341.6 1846.4,1341.8 1849.4,1342 1852.3,1342.2 1855.3,1342.4 1858.3,1342.6 1861.3,1342.8 1864.3,1343 1867.3,1343.3 1870.3,1343.5 1873.3,1343.6 1876.2,1343.8 1879.2,1344 1882.2,1344.2 1885.2,1344.4 1888.2,1344.6 1891.2,1344.8 1894.2,1345 1897.2,1345.2 1900.2,1345.4 1903.2,1345.5 1906.1,1345.7 1909.1,1345.9 1912.1,1346.1 1915.1,1346.2 1918.1,1346.4 1921.1,1346.6 1924.1,1346.8 1927.1,1346.9 1930.1,1347.1 1933.1,1347.3 1936.1,1347.4 1939,1347.6 1942,1347.7 1945,1347.9 1948,1348 1951,1348.2 1954,1348.3 1957,1348.5" stroke-width="7" stroke-dasharray="39 14 10 13"/>
<polyline points="489,370.5 491.9,369.6 494.9,369.6 497.8,370.4 500.3,372 502.4,374.2 504,376.6 505.3,379.3 506.4,382.2 507.5,385 508.6,387.8 509.6,390.7 510.6,393.5 511.5,396.3 512.6,399.1 513.6,402 514.6,404.8 515.6,407.6 516.6,410.4 517.6,413.3 518.7,416.1 519.7,418.9 520.8,421.7 522,424.4 523.1,427.2 524.4,429.9 525.8,432.5 527.2,435.2 528.6,437.8 530,440.5 531.4,443.2 532.6,445.9 533.7,448.7 534.7,451.5 535.7,454.3 536.6,457.1 537.6,460 538.5,462.9 539.3,465.7 540.2,468.6 541.1,471.5 541.9,474.3 542.8,477.2 543.6,480.1 544.4,483 545.3,485.8 546.2,488.7 547.2,491.5 548.2,494.4 549.2,497.2 550.2,500 551.3,502.8 552.4,505.5 553.6,508.3 554.8,511.1 556,513.8 557.2,516.6 558.4,519.3 559.6,522 560.8,524.8 561.9,527.6 563.1,530.3 564.2,533.1 565.3,535.9 566.5,538.6 567.6,541.4 568.7,544.2 569.8,547 570.9,549.8 572,552.6 573.1,555.3 574.2,558.1 575.3,560.9 576.5,563.7 577.6,566.5 578.7,569.2 579.8,572 580.9,574.8 582,577.6 583.2,580.4 584.3,583.1 585.4,585.9 586.6,588.7 587.7,591.5 588.8,594.2 590,597 591.1,599.8 592.2,602.5 593.4,605.3 594.5,608.1 595.6,610.9 596.8,613.6 597.9,616.4 599.1,619.2 600.2,621.9 601.4,624.7 602.6,627.4 603.7,630.2 604.9,633 606,635.7 607.2,638.5 608.3,641.3 609.5,644 610.7,646.8 611.8,649.5 613,652.3 614.2,655.1 615.3,657.8 616.5,660.6 617.7,663.3 618.9,666.1 620.1,668.8 621.3,671.6 622.5,674.3 623.7,677.1 624.9,679.8 626.1,682.5 627.3,685.3 628.5,688 629.8,690.7 631,693.5 632.3,696.2 633.5,698.9 634.8,701.6 636,704.3 637.3,707 638.6,709.8 639.9,712.5 641.2,715.2 642.5,717.9 643.8,720.6 645.1,723.3 646.4,725.9 647.8,728.6 649.1,731.3 650.4,734 651.8,736.6 653.2,739.3 654.5,742 655.9,744.6 657.3,747.3 658.7,749.9 660.1,752.6 661.5,755.2 662.9,757.9 664.4,760.5 665.8,763.1 667.3,765.7 668.7,768.4 670.2,771 671.6,773.6 673.1,776.2 674.6,778.8 676.1,781.4 677.5,784 679,786.6 680.5,789.2 682,791.8 683.5,794.4 685.1,797 686.6,799.5 688.1,802.1 689.7,804.7 691.2,807.2 692.8,809.8 694.3,812.4 695.9,814.9 697.5,817.5 699,820 700.6,822.6 702.2,825.1 703.8,827.7 705.3,830.2 706.9,832.8 708.5,835.3 710.1,837.8 711.7,840.4 713.2,842.9 714.8,845.5 716.4,848 718,850.6 719.5,853.1 721.1,855.7 722.7,858.2 724.3,860.8 725.8,863.3 727.4,865.9 729,868.4 730.6,871 732.1,873.5 733.7,876.1 735.3,878.6 736.9,881.2 738.5,883.7 740.1,886.2 741.7,888.8 743.2,891.3 744.8,893.8 746.4,896.4 748,898.9 749.6,901.4 751.3,904 752.9,906.5 754.5,909 756.1,911.5 757.7,914 759.4,916.6 761,919.1 762.6,921.6 764.2,924.1 765.9,926.6 767.5,929.1 769.1,931.6 770.8,934.1 772.4,936.7 774.1,939.2 775.7,941.7 777.4,944.1 779.1,946.6 780.7,949.1 782.4,951.6 784.1,954.1 785.8,956.6 787.5,959 789.2,961.5 790.9,963.9 792.6,966.4 794.4,968.8 796.1,971.3 797.9,973.7 799.6,976.1 801.4,978.6 803.1,981 804.9,983.4 806.7,985.8 808.5,988.2 810.4,990.5 812.3,992.8 814.2,995.1 816.2,997.3 818.3,999.5 820.4,1001.6 822.5,1003.7 824.7,1005.8 826.8,1007.9 829,1010 831.2,1012 833.4,1014.1 835.6,1016.1 837.8,1018.1 840,1020.1 842.3,1022.1 844.5,1024.1 846.7,1026.1 848.9,1028.2 851.1,1030.2 853.3,1032.3 855.4,1034.4 857.6,1036.5 859.7,1038.6 861.8,1040.7 863.9,1042.8 866,1045 868.1,1047.1 870.3,1049.2 872.4,1051.3 874.6,1053.4 876.7,1055.5 878.9,1057.5 881.1,1059.5 883.4,1061.4 885.7,1063.4 888,1065.3 890.3,1067.2 892.6,1069.1 894.9,1071 897.2,1072.9 899.6,1074.7 902,1076.6 904.3,1078.4 906.7,1080.2 909.1,1082 911.5,1083.9 913.9,1085.7 916.3,1087.5 918.7,1089.3 921.1,1091.1 923.5,1092.9 925.9,1094.7 928.3,1096.5 930.7,1098.3 933.1,1100 935.5,1101.8 937.9,1103.6 940.3,1105.4 942.8,1107.1 945.2,1108.9 947.7,1110.6 950.1,1112.3 952.6,1114 955,1115.7 957.5,1117.4 960,1119 962.5,1120.6 965,1122.3 967.6,1123.9 970.1,1125.5 972.7,1127 975.2,1128.6 977.8,1130.2 980.3,1131.7 982.9,1133.2 985.5,1134.8 988.1,1136.3 990.7,1137.8 993.3,1139.2 995.9,1140.7 998.5,1142.1 1001.2,1143.6 1003.8,1145 1006.4,1146.4 1009.1,1147.8 1011.7,1149.2 1014.4,1150.5 1017.1,1151.9 1019.7,1153.3 1022.4,1154.6 1025.1,1155.9 1027.8,1157.3 1030.5,1158.6 1033.2,1159.9 1035.9,1161.2 1038.6,1162.5 1041.3,1163.7 1044,1165 1046.8,1166.3 1049.5,1167.5 1052.2,1168.8 1054.9,1170 1057.6,1171.3 1060.4,1172.5 1063.1,1173.8 1065.8,1175 1068.6,1176.2 1071.3,1177.4 1074,1178.6 1076.8,1179.8 1079.5,1181 1082.3,1182.2 1085.1,1183.3 1087.8,1184.5 1090.6,1185.7 1093.3,1186.8 1096.1,1188 1098.9,1189.1 1101.7,1190.3 1104.4,1191.4 1107.2,1192.5 1110,1193.6 1112.8,1194.8 1115.5,1195.9 1118.3,1197 1121.1,1198.1 1123.9,1199.2 1126.7,1200.3 1129.5,1201.4 1132.3,1202.4 1135.1,1203.5 1137.9,1204.6 1140.7,1205.7 1143.5,1206.7 1146.3,1207.8 1149.1,1208.9 1151.9,1209.9 1154.7,1211 1157.5,1212 1160.3,1213 1163.1,1214.1 1165.9,1215.1 1168.7,1216.1 1171.6,1217.1 1174.4,1218.1 1177.2,1219.1 1180,1220.1 1182.9,1221.1 1185.7,1222.1 1188.5,1223.1 1191.4,1224 1194.2,1225 1197,1226 1199.9,1226.9 1202.7,1227.9 1205.5,1228.8 1208.4,1229.7 1211.2,1230.7 1214.1,1231.6 1216.9,1232.5 1219.8,1233.4 1222.7,1234.3 1225.5,1235.2 1228.4,1236.1 1231.2,1237 1234.1,1237.9 1237,1238.8 1239.8,1239.7 1242.7,1240.5 1245.6,1241.4 1248.4,1242.2 1251.3,1243.1 1254.2,1243.9 1257,1244.8 1259.9,1245.6 1262.8,1246.4 1265.7,1247.2 1268.6,1248.1 1271.5,1248.9 1274.3,1249.7 1277.2,1250.5 1280.1,1251.3 1283,1252.1 1285.9,1252.9 1288.8,1253.6 1291.7,1254.4 1294.6,1255.2 1297.5,1256 1300.4,1256.7 1303.3,1257.5 1306.2,1258.2 1309.1,1259 1312,1259.7 1314.9,1260.5 1317.8,1261.2 1320.7,1261.9 1323.6,1262.7 1326.5,1263.4 1329.4,1264.1 1332.3,1264.8 1335.2,1265.5 1338.1,1266.2 1341,1266.9 1344,1267.6 1346.9,1268.3 1349.8,1269 1352.7,1269.7 1355.6,1270.4 1358.5,1271.1 1361.5,1271.7 1364.4,1272.4 1367.3,1273.1 1370.2,1273.7 1373.1,1274.4 1376.1,1275 1379,1275.7 1381.9,1276.3 1384.8,1276.9 1387.8,1277.5 1390.7,1278.2 1393.6,1278.8 1396.6,1279.4 1399.5,1280 1402.4,1280.6 1405.4,1281.2 1408.3,1281.8 1411.2,1282.4 1414.2,1283 1417.1,1283.6 1420.1,1284.2 1423,1284.8 1425.9,1285.3 1428.9,1285.9 1431.8,1286.5 1434.8,1287.1 1437.7,1287.6 1440.6,1288.2 1443.6,1288.8 1446.5,1289.3 1449.5,1289.9 1452.4,1290.4 1455.4,1291 1458.3,1291.5 1461.2,1292 1464.2,1292.6 1467.1,1293.1 1470.1,1293.7 1473,1294.2 1476,1294.7 1478.9,1295.3 1481.9,1295.8 1484.8,1296.3 1487.8,1296.9 1490.7,1297.4 1493.7,1297.9 1496.6,1298.4 1499.6,1299 1502.5,1299.5 1505.5,1300 1508.4,1300.5 1511.4,1301 1514.3,1301.5 1517.3,1302 1520.2,1302.5 1523.2,1303 1526.1,1303.5 1529.1,1304 1532.1,1304.5 1535,1305 1538,1305.5 1540.9,1306 1543.9,1306.5 1546.8,1307 1549.8,1307.4 1552.8,1307.9 1555.7,1308.4 1558.7,1308.9 1561.6,1309.3 1564.6,1309.8 1567.5,1310.2 1570.5,1310.7 1573.5,1311.1 1576.4,1311.6 1579.4,1312 1582.4,1312.5 1585.3,1312.9 1588.3,1313.3 1591.2,1313.8 1594.2,1314.2 1597.2,1314.6 1600.1,1315 1603.1,1315.5 1606.1,1315.9 1609,1316.3 1612,1316.7 1615,1317.1 1617.9,1317.5 1620.9,1317.9 1623.9,1318.4 1626.8,1318.8 1629.8,1319.2 1632.8,1319.6 1635.7,1320 1638.7,1320.4 1641.7,1320.7 1644.7,1321.1 1647.6,1321.5 1650.6,1321.9 1653.6,1322.3 1656.5,1322.7 1659.5,1323 1662.5,1323.4 1665.5,1323.8 1668.4,1324.2 1671.4,1324.5 1674.4,1324.9 1677.4,1325.2 1680.3,1325.6 1683.3,1325.9 1686.3,1326.3 1689.3,1326.6 1692.2,1327 1695.2,1327.3 1698.2,1327.6 1701.2,1328 1704.1,1328.3 1707.1,1328.6 1710.1,1328.9 1713.1,1329.2 1716.1,1329.5 1719,1329.8 1722,1330.1 1725,1330.4 1728,1330.7 1731,1331 1733.9,1331.3 1736.9,1331.6 1739.9,1331.9 1742.9,1332.2 1745.9,1332.5 1748.8,1332.8 1751.8,1333 1754.8,1333.3 1757.8,1333.6 1760.8,1333.9 1763.8,1334.1 1766.7,1334.4 1769.7,1334.7 1772.7,1334.9 1775.7,1335.2 1778.7,1335.5 1781.7,1335.7 1784.6,1336 1787.6,1336.2 1790.6,1336.5 1793.6,1336.7 1796.6,1337 1799.6,1337.2 1802.6,1337.4 1805.6,1337.7 1808.5,1337.9 1811.5,1338.2 1814.5,1338.4 1817.5,1338.6 1820.5,1338.8 1823.5,1339.1 1826.5,1339.3 1829.4,1339.5 1832.4,1339.7 1835.4,1340 1838.4,1340.2 1841.4,1340.4 1844.4,1340.6 1847.4,1340.8 1850.4,1341 1853.3,1341.2 1856.3,1341.4 1859.3,1341.6 1862.3,1341.8 1865.3,1342 1868.3,1342.3 1871.3,1342.5 1874.3,1342.6 1877.2,1342.8 1880.2,1343 1883.2,1343.2 1886.2,1343.4 1889.2,1343.6 1892.2,1343.8 1895.2,1344 1898.2,1344.2 1901.2,1344.4 1904.2,1344.5 1907.1,1344.7 1910.1,1344.9 1913.1,1345.1 1916.1,1345.2 1919.1,1345.4 1922.1,1345.6 1925.1,1345.8 1928.1,1345.9 1931.1,1346.1 1934.1,1346.3 1937.1,1346.4 1940,1346.6 1943,1346.7 1946,1346.9 1949,1347 1952,1347.2 1955,1347.3 1958,1347.5" stroke-width="7" stroke-dasharray="39 37" stroke-dashoffset="53"/>
<polyline points="300.5,1345 300.7,1348 300.9,1351 301.1,1354 301.3,1357 301.5,1360 301.7,1363 301.9,1365.9 302.1,1368.9 302.4,1371.9 302.6,1374.9 302.8,1377.9 303.1,1380.9 303.3,1383.9 303.6,1386.9 303.8,1389.9 304.1,1392.9 304.3,1395.8 304.6,1398.8 304.9,1401.8 305.2,1404.8 305.5,1407.8 305.9,1410.8 306.2,1413.7 306.6,1416.7 307,1419.7 307.4,1422.7 307.8,1425.6 308.2,1428.6 308.7,1431.6 309.2,1434.5 309.7,1437.5 310.2,1440.5 310.7,1443.4 311.3,1446.4 311.8,1449.3 312.4,1452.3 313,1455.2 313.6,1458.1 314.2,1461 314.9,1464 315.6,1466.9 316.3,1469.8 317.1,1472.7 317.9,1475.6 318.7,1478.5 319.5,1481.4 320.4,1484.3 321.3,1487.2 322.2,1490 323.2,1492.8 324.2,1495.7 325.2,1498.5 326.2,1501.3 327.3,1504.1 328.5,1506.9 329.7,1509.7 330.9,1512.4 332.3,1515.1 333.7,1517.8 335.1,1520.4 336.6,1522.9 338.3,1525.4 340.1,1528 342,1530.4 344.2,1532.4 346.5,1534 349.3,1535.6 352.2,1536.6 355,1536.5 358,1535.7 360.9,1534.5 363.4,1533.2 365.8,1531.3 368,1529.1 369.9,1526.8 371.6,1524.5 373.2,1522 374.7,1519.5 376.1,1516.8 377.5,1514.1 378.7,1511.3 379.9,1508.4 381.1,1505.6 382.2,1502.8 383.3,1500 384.4,1497.2 385.4,1494.4 386.3,1491.5 387.3,1488.7 388.2,1485.8 389,1482.9 389.8,1480 390.6,1477.1 391.4,1474.2 392.1,1471.3 392.8,1468.4 393.5,1465.5 394.2,1462.6 394.9,1459.7 395.6,1456.7 396.2,1453.8 396.8,1450.8 397.4,1447.9 398,1444.9 398.5,1442 399,1439 399.4,1436.1 399.9,1433.1 400.2,1430.1 400.6,1427.2 400.9,1424.2 401.3,1421.2 401.6,1418.2 401.8,1415.3 402.1,1412.3 402.4,1409.3 402.6,1406.3 402.9,1403.3 403.1,1400.3 403.4,1397.3 403.6,1394.3 403.9,1391.3 404.1,1388.3 404.4,1385.3 404.6,1382.4 404.9,1379.4 405.2,1376.4 405.4,1373.4 405.7,1370.4 406,1367.4 406.3,1364.4 406.5,1361.4 406.8,1358.5 407.1,1355.5 407.4,1352.5 407.7,1349.5 407.9,1346.5 408.2,1343.5 408.5,1340.5 408.8,1337.6 409,1334.6 409.3,1331.6 409.6,1328.6 409.9,1325.6 410.2,1322.6 410.4,1319.6 410.7,1316.7 411,1313.7 411.3,1310.7 411.6,1307.7 411.8,1304.7 412.1,1301.7 412.4,1298.7 412.6,1295.7 412.9,1292.8 413.1,1289.8 413.4,1286.8 413.6,1283.8 413.8,1280.8 414,1277.8 414.3,1274.8 414.5,1271.8 414.7,1268.8 414.9,1265.8 415.1,1262.9 415.3,1259.9 415.5,1256.9 415.7,1253.9 416,1250.9 416.1,1247.9 416.3,1244.9 416.5,1241.9 416.7,1238.9 416.9,1235.9 417.1,1232.9 417.3,1229.9 417.5,1226.9 417.7,1223.9 417.8,1221 418,1218 418.2,1215 418.4,1212 418.5,1209 418.7,1206 418.9,1203 419.1,1200 419.2,1197 419.4,1194 419.6,1191 419.7,1188 419.9,1185 420.1,1182 420.2,1179 420.4,1176 420.5,1173 420.7,1170.1 420.9,1167.1 421,1164.1 421.2,1161.1 421.3,1158.1 421.5,1155.1 421.6,1152.1 421.8,1149.1 421.9,1146.1 422.1,1143.1 422.2,1140.1 422.4,1137.1 422.5,1134.1 422.7,1131.1 422.8,1128.1 423,1125.1 423.1,1122.1 423.3,1119.1 423.4,1116.1 423.6,1113.1 423.7,1110.1 423.8,1107.2 424,1104.2 424.1,1101.2 424.3,1098.2 424.4,1095.2 424.5,1092.2 424.7,1089.2 424.8,1086.2 425,1083.2 425.1,1080.2 425.2,1077.2 425.4,1074.2 425.5,1071.2 425.6,1068.2 425.8,1065.2 425.9,1062.2 426,1059.2 426.2,1056.2 426.3,1053.2 426.4,1050.2 426.6,1047.2 426.7,1044.2 426.8,1041.2 427,1038.2 427.1,1035.2 427.2,1032.3 427.3,1029.3 427.5,1026.3 427.6,1023.3 427.7,1020.3 427.8,1017.3 428,1014.3 428.1,1011.3 428.2,1008.3 428.3,1005.3 428.5,1002.3 428.6,999.3 428.7,996.3 428.8,993.3 428.9,990.3 429.1,987.3 429.2,984.3 429.3,981.3 429.4,978.3 429.5,975.3 429.7,972.3 429.8,969.3 429.9,966.3 430,963.3 430.1,960.3 430.2,957.3 430.3,954.3 430.5,951.3 430.6,948.3 430.7,945.4 430.8,942.4 430.9,939.4 431,936.4 431.1,933.4 431.3,930.4 431.4,927.4 431.5,924.4 431.6,921.4 431.7,918.4 431.8,915.4 431.9,912.4 432,909.4 432.1,906.4 432.2,903.4 432.3,900.4 432.5,897.4 432.6,894.4 432.7,891.4 432.8,888.4 432.9,885.4 433,882.4 433.1,879.4 433.2,876.4 433.3,873.4 433.4,870.4 433.5,867.4 433.6,864.4 433.7,861.4 433.8,858.4 433.9,855.4 434,852.4 434.1,849.4 434.2,846.4 434.3,843.4 434.4,840.5 434.5,837.5 434.6,834.5 434.7,831.5 434.8,828.5 434.9,825.5 435,822.5 435.1,819.5 435.2,816.5 435.3,813.5 435.4,810.5 435.5,807.5 435.6,804.5 435.7,801.5 435.8,798.5 435.9,795.5 436,792.5 436.1,789.5 436.2,786.5 436.3,783.5 436.4,780.5 436.5,777.5 436.6,774.5 436.7,771.5 436.7,768.5 436.8,765.5 436.9,762.5 437,759.5 437.1,756.5 437.2,753.5 437.3,750.5 437.4,747.5 437.4,744.5 437.5,741.5 437.6,738.5 437.7,735.5 437.8,732.5 437.8,729.5 437.9,726.5 438,723.5 438.1,720.5 438.1,717.5 438.2,714.5 438.3,711.5 438.3,708.6 438.4,705.6 438.5,702.6 438.6,699.6 438.6,696.6 438.7,693.6 438.8,690.6 438.8,687.6 438.9,684.6 439,681.6 439.1,678.6 439.1,675.6 439.2,672.6 439.3,669.6 439.4,666.6 439.4,663.6 439.5,660.6 439.6,657.6 439.7,654.6 439.8,651.6 439.8,648.6 439.9,645.6 440,642.6 440.1,639.6 440.2,636.6 440.3,633.6 440.4,630.6 440.5,627.6 440.6,624.6 440.7,621.6 440.8,618.6 440.9,615.6 441,612.6 441.1,609.6 441.2,606.6 441.4,603.6 441.5,600.6 441.6,597.6 441.8,594.7 441.9,591.7 442.1,588.7 442.2,585.7 442.4,582.7 442.6,579.7 442.7,576.7 442.9,573.7 443.1,570.7 443.2,567.7 443.4,564.7 443.6,561.7 443.8,558.7 443.9,555.7 444.1,552.7 444.3,549.7 444.5,546.7 444.7,543.7 444.9,540.8 445,537.8 445.2,534.8 445.4,531.8 445.6,528.8 445.8,525.8 446,522.8 446.2,519.8 446.3,516.8 446.5,513.8 446.7,510.8 446.9,507.8 447.1,504.8 447.2,501.8 447.4,498.8 447.6,495.8 447.7,492.9 447.9,489.9 448,486.9 448.2,483.9 448.3,480.9 448.5,477.9 448.6,474.9 448.8,471.9 448.9,468.9 449,465.9 449.2,462.9 449.3,459.9 449.4,456.9 449.6,453.9 449.7,450.9 449.9,447.9 450,444.9 450.2,441.9 450.3,438.9 450.5,435.9 450.6,432.9 450.8,429.9 450.9,426.9 451.1,423.9 451.3,420.9 451.5,417.9 451.7,414.9 451.9,412 452.1,409 452.3,406 452.5,403 452.8,400 453,397 453.3,394 453.5,391 453.8,388 454.1,385 454.5,382.1 454.9,379.1 455.3,376.1 455.7,373.1 456.2,370.1 456.7,367.2 457.2,364.3 457.9,361.4 458.6,358.3 459.5,355.2 460.6,352.4 462,350.1 464.1,348 467,346.3 469.5,346.3 471.9,348.3 473.9,350.9 475.5,353.3 476.8,356 478,358.8 479.2,361.6 480.5,364.3 481.9,367 483.2,369.7 484.6,372.4 486,375 487.4,377.7 488.8,380.3 490.1,383 491.5,385.7 492.8,388.4 494.1,391.1 495.4,393.8 496.6,396.5 497.8,399.3 498.9,402 500.1,404.8 501.2,407.6 502.2,410.4 503.3,413.2 504.3,416 505.4,418.8 506.4,421.6 507.4,424.5 508.4,427.3 509.5,430.1 510.5,432.9 511.6,435.8 512.6,438.6 513.7,441.4 514.8,444.1 515.9,446.9 517.1,449.7 518.2,452.5 519.3,455.3 520.4,458 521.5,460.8 522.6,463.6 523.6,466.5 524.6,469.3 525.7,472.1 526.7,474.9 527.7,477.7 528.7,480.6 529.7,483.4 530.8,486.2 531.8,489 532.8,491.8 533.9,494.6 534.9,497.5 535.9,500.3 536.9,503.1 538,505.9 539,508.7 540,511.6 541,514.4 542,517.2 543,520 544.1,522.8 545.2,525.6 546.3,528.4 547.5,531.2 548.6,533.9 549.8,536.7 550.9,539.5 552.1,542.2 553.3,545 554.5,547.7 555.7,550.5 556.9,553.2 558.1,556 559.3,558.7 560.5,561.5 561.7,564.2 562.9,567 564,569.8 565.2,572.5 566.4,575.3 567.6,578 568.7,580.8 569.9,583.5 571.1,586.3 572.3,589.1 573.5,591.8 574.6,594.6 575.8,597.3 577,600.1 578.2,602.8 579.4,605.6 580.6,608.3 581.8,611.1 583,613.8 584.2,616.6 585.4,619.3 586.6,622.1 587.8,624.8 589,627.6 590.2,630.3 591.4,633.1 592.6,635.8 593.8,638.6 595,641.3 596.2,644.1 597.4,646.8 598.7,649.5 599.9,652.3 601.1,655 602.3,657.8 603.5,660.5 604.8,663.2 606,666 607.2,668.7 608.5,671.4 609.7,674.2 610.9,676.9 612.2,679.6 613.4,682.4 614.7,685.1 615.9,687.8 617.2,690.5 618.5,693.2 619.7,696 621,698.7 622.3,701.4 623.5,704.1 624.8,706.8 626.1,709.6 627.4,712.3 628.6,715 629.9,717.7 631.2,720.4 632.5,723.1 633.9,725.8 635.2,728.5 636.5,731.2 637.9,733.8 639.2,736.5 640.6,739.2 642,741.8 643.3,744.5 644.8,747.1 646.2,749.8 647.6,752.4 649,755.1 650.5,757.7 651.9,760.3 653.4,762.9 654.9,765.5 656.4,768.1 657.8,770.8 659.3,773.4 660.8,776 662.3,778.6 663.8,781.2 665.3,783.8 666.8,786.4 668.3,789 669.8,791.6 671.3,794.1 672.8,796.7 674.3,799.3 675.9,801.9 677.4,804.5 678.9,807.1 680.5,809.6 682,812.2 683.5,814.8 685.1,817.4 686.6,819.9 688.2,822.5 689.7,825.1 691.3,827.6 692.9,830.2 694.4,832.8 696,835.3 697.5,837.9 699.1,840.4 700.7,843 702.3,845.5 703.8,848.1 705.4,850.6 707,853.2 708.5,855.8 710.1,858.3 711.7,860.9 713.2,863.4 714.8,866 716.4,868.6 717.9,871.1 719.5,873.7 721.1,876.3 722.6,878.8 724.2,881.4 725.8,883.9 727.4,886.5 729,889 730.6,891.5 732.2,894.1 733.8,896.6 735.5,899.1 737.1,901.6 738.8,904.1 740.4,906.6 742.1,909.1 743.8,911.5 745.5,914 747.2,916.4 749,918.9 750.7,921.3 752.5,923.7 754.2,926.2 756,928.6 757.8,931 759.6,933.4 761.4,935.8 763.3,938.1 765.1,940.5 766.9,942.9 768.8,945.3 770.7,947.6 772.5,950 774.4,952.3 776.3,954.6 778.2,957 780.1,959.3 782,961.6 784,963.9 785.9,966.2 787.8,968.5 789.8,970.7 791.7,973 793.7,975.3 795.7,977.5 797.7,979.8 799.7,982 801.7,984.2 803.8,986.4 805.8,988.6 807.9,990.8 810,992.9 812.1,995 814.2,997.1 816.4,999.2 818.6,1001.2 820.8,1003.2 823.1,1005.2 825.3,1007.2 827.6,1009.2 829.9,1011.1 832.2,1013.1 834.4,1015 836.7,1017 838.9,1019 841.1,1021 843.3,1023.1 845.5,1025.1 847.7,1027.2 849.9,1029.3 852,1031.4 854.2,1033.4 856.4,1035.5 858.5,1037.6 860.7,1039.6 862.9,1041.7 865.1,1043.7 867.4,1045.7 869.6,1047.7 871.9,1049.6 874.2,1051.5 876.5,1053.5 878.8,1055.4 881.1,1057.2 883.5,1059.1 885.8,1061 888.2,1062.8 890.6,1064.7 892.9,1066.5 895.3,1068.4 897.7,1070.2 900,1072 902.4,1073.9 904.8,1075.7 907.1,1077.6 909.5,1079.4 911.9,1081.3 914.2,1083.2 916.6,1085 919,1086.8 921.4,1088.7 923.8,1090.5 926.2,1092.3 928.6,1094.1 931,1095.8 933.4,1097.6 935.9,1099.3 938.4,1100.9 940.9,1102.6 943.4,1104.2 945.9,1105.8 948.4,1107.4 951,1109 953.5,1110.5 956.1,1112.1 958.7,1113.6 961.3,1115.2 963.9,1116.7 966.5,1118.2 969.1,1119.7 971.7,1121.1 974.3,1122.6 977,1124 979.6,1125.5 982.3,1126.9 984.9,1128.3 987.6,1129.7 990.2,1131.1 992.9,1132.4 995.6,1133.8 998.3,1135.1 1000.9,1136.5 1003.6,1137.8 1006.3,1139.1 1009,1140.4 1011.7,1141.6 1014.5,1142.9 1017.2,1144.1 1019.9,1145.3 1022.7,1146.6 1025.4,1147.8 1028.2,1149 1030.9,1150.2 1033.7,1151.3 1036.4,1152.5 1039.2,1153.7 1042,1154.8 1044.8,1156 1047.5,1157.1 1050.3,1158.3 1053.1,1159.4 1055.9,1160.6 1058.6,1161.7 1061.4,1162.8 1064.2,1164 1067,1165.1 1069.8,1166.2 1072.5,1167.4 1075.3,1168.5 1078.1,1169.6 1080.9,1170.7 1083.7,1171.8 1086.5,1172.9 1089.3,1174 1092.1,1175.1 1094.8,1176.2 1097.6,1177.3 1100.5,1178.3 1103.3,1179.4 1106.1,1180.5 1108.9,1181.5 1111.7,1182.6 1114.5,1183.6 1117.3,1184.7 1120.1,1185.7 1122.9,1186.7 1125.7,1187.8 1128.6,1188.8 1131.4,1189.8 1134.2,1190.9 1137,1191.9 1139.8,1192.9 1142.6,1193.9 1145.5,1195 1148.3,1196 1151.1,1197 1153.9,1198 1156.8,1199.1 1159.6,1200.1 1162.4,1201.1 1165.2,1202.1 1168.1,1203.1 1170.9,1204.1 1173.7,1205.1 1176.6,1206.1 1179.4,1207.1 1182.2,1208.1 1185.1,1209.1 1187.9,1210.1 1190.7,1211.1 1193.6,1212.1 1196.4,1213 1199.2,1214 1202.1,1215 1204.9,1215.9 1207.8,1216.9 1210.6,1217.8 1213.5,1218.7 1216.3,1219.7 1219.2,1220.6 1222,1221.5 1224.9,1222.4 1227.7,1223.3 1230.6,1224.2 1233.5,1225.1 1236.3,1226 1239.2,1226.8 1242.1,1227.7 1244.9,1228.5 1247.8,1229.4 1250.7,1230.2 1253.6,1231 1256.4,1231.8 1259.3,1232.6 1262.2,1233.4 1265.1,1234.2 1268,1235 1270.9,1235.8 1273.8,1236.6 1276.7,1237.4 1279.6,1238.1 1282.5,1238.9 1285.4,1239.6 1288.3,1240.4 1291.2,1241.1 1294.1,1241.9 1297,1242.6 1299.9,1243.3 1302.8,1244.1 1305.7,1244.8 1308.6,1245.5 1311.6,1246.2 1314.5,1246.9 1317.4,1247.6 1320.3,1248.3 1323.2,1249 1326.2,1249.7 1329.1,1250.4 1332,1251.1 1334.9,1251.8 1337.8,1252.5 1340.8,1253.2 1343.7,1253.9 1346.6,1254.5 1349.5,1255.2 1352.5,1255.9 1355.4,1256.5 1358.3,1257.2 1361.2,1257.9 1364.2,1258.5 1367.1,1259.2 1370,1259.9 1372.9,1260.5 1375.9,1261.2 1378.8,1261.9 1381.7,1262.5 1384.6,1263.2 1387.6,1263.8 1390.5,1264.5 1393.4,1265.1 1396.3,1265.8 1399.3,1266.4 1402.2,1267.1 1405.1,1267.7 1408.1,1268.4 1411,1269 1413.9,1269.6 1416.9,1270.3 1419.8,1270.9 1422.7,1271.5 1425.7,1272.1 1428.6,1272.7 1431.6,1273.3 1434.5,1273.9 1437.4,1274.5 1440.4,1275.1 1443.3,1275.7 1446.3,1276.2 1449.2,1276.8 1452.2,1277.3 1455.1,1277.9 1458.1,1278.4 1461,1278.9 1464,1279.4 1466.9,1280 1469.9,1280.5 1472.8,1281 1475.8,1281.5 1478.7,1282 1481.7,1282.5 1484.6,1283 1487.6,1283.4 1490.6,1283.9 1493.5,1284.4 1496.5,1284.9 1499.4,1285.4 1502.4,1285.8 1505.4,1286.3 1508.3,1286.8 1511.3,1287.2 1514.3,1287.7 1517.2,1288.1 1520.2,1288.6 1523.2,1289 1526.1,1289.5 1529.1,1289.9 1532.1,1290.3 1535,1290.8 1538,1291.2 1541,1291.6 1544,1292 1546.9,1292.5 1549.9,1292.9 1552.9,1293.3 1555.8,1293.7 1558.8,1294.1 1561.8,1294.5 1564.8,1294.9 1567.7,1295.3 1570.7,1295.7 1573.7,1296.1 1576.7,1296.4 1579.6,1296.8 1582.6,1297.2 1585.6,1297.6 1588.6,1297.9 1591.5,1298.3 1594.5,1298.7 1597.5,1299 1600.5,1299.4 1603.4,1299.7 1606.4,1300.1 1609.4,1300.4 1612.4,1300.8 1615.3,1301.1 1618.3,1301.5 1621.3,1301.8 1624.3,1302.1 1627.3,1302.5 1630.2,1302.8 1633.2,1303.1 1636.2,1303.5 1639.2,1303.8 1642.2,1304.1 1645.2,1304.4 1648.1,1304.7 1651.1,1305 1654.1,1305.4 1657.1,1305.7 1660.1,1306 1663.1,1306.3 1666,1306.6 1669,1306.9 1672,1307.2 1675,1307.5 1678,1307.8 1681,1308.1 1683.9,1308.4 1686.9,1308.7 1689.9,1309 1692.9,1309.3 1695.9,1309.6 1698.9,1309.9 1701.9,1310.2 1704.8,1310.5 1707.8,1310.8 1710.8,1311.1 1713.8,1311.4 1716.8,1311.7 1719.8,1312 1722.7,1312.3 1725.7,1312.6 1728.7,1312.9 1731.7,1313.2 1734.7,1313.5 1737.7,1313.8 1740.7,1314.1 1743.6,1314.4 1746.6,1314.7 1749.6,1315 1752.6,1315.3 1755.6,1315.6 1758.6,1315.8 1761.5,1316.1 1764.5,1316.4 1767.5,1316.7 1770.5,1317 1773.5,1317.3 1776.5,1317.6 1779.5,1317.9 1782.4,1318.1 1785.4,1318.4 1788.4,1318.7 1791.4,1319 1794.4,1319.2 1797.4,1319.5 1800.4,1319.7 1803.4,1320 1806.3,1320.3 1809.3,1320.5 1812.3,1320.8 1815.3,1321 1818.3,1321.2 1821.3,1321.5 1824.3,1321.7 1827.3,1321.9 1830.3,1322.2 1833.2,1322.4 1836.2,1322.6 1839.2,1322.8 1842.2,1323 1845.2,1323.2 1848.2,1323.4 1851.2,1323.6 1854.2,1323.8 1857.2,1324 1860.2,1324.2 1863.2,1324.4 1866.2,1324.6 1869.1,1324.8 1872.1,1325 1875.1,1325.2 1878.1,1325.4 1881.1,1325.6 1884.1,1325.8 1887.1,1325.9 1890.1,1326.1 1893.1,1326.3 1896.1,1326.5 1899.1,1326.7 1902.1,1326.8 1905.1,1327 1908.1,1327.2 1911.1,1327.3 1914,1327.5 1917,1327.7 1920,1327.8 1923,1328 1926,1328.1 1929,1328.3 1932,1328.4 1935,1328.6 1938,1328.7 1941,1328.8 1944,1329 1947,1329.1 1950,1329.2 1953,1329.4 1956,1329.5" stroke-width="6.8"/>
</g>
<g stroke="#000" fill="none">
<line x1="300.4" y1="74.4" x2="300.4" y2="1596.25" stroke-width="7.2"/>
<line x1="296.8" y1="1592.75" x2="1961" y2="1592.75" stroke-width="7"/>
<line x1="300.5" y1="1289.7" x2="338" y2="1289.7" stroke-width="7"/>
<line x1="300.5" y1="986.8" x2="338" y2="986.8" stroke-width="7"/>
<line x1="300.5" y1="683.9" x2="338" y2="683.9" stroke-width="7"/>
<line x1="300.5" y1="381" x2="338" y2="381" stroke-width="7"/>
<line x1="300.5" y1="78.1" x2="338" y2="78.1" stroke-width="7"/>
<line x1="398" y1="1592.75" x2="398" y2="1554.5" stroke-width="7"/>
<line x1="787.9" y1="1592.75" x2="787.9" y2="1554.5" stroke-width="7"/>
<line x1="1177.8" y1="1592.75" x2="1177.8" y2="1554.5" stroke-width="7"/>
<line x1="1567.7" y1="1592.75" x2="1567.7" y2="1554.5" stroke-width="7"/>
<line x1="1957.6" y1="1592.75" x2="1957.6" y2="1554.5" stroke-width="7"/>
</g>
<g stroke="#555" stroke-width="2.6" fill="none">
<line x1="304" y1="1516.9" x2="323" y2="1516.9"/>
<line x1="304" y1="1441.1" x2="323" y2="1441.1"/>
<line x1="304" y1="1365.4" x2="323" y2="1365.4"/>
<line x1="304" y1="1214" x2="323" y2="1214"/>
<line x1="304" y1="1138.2" x2="323" y2="1138.2"/>
<line x1="304" y1="1062.5" x2="323" y2="1062.5"/>
<line x1="304" y1="911.1" x2="323" y2="911.1"/>
<line x1="304" y1="835.3" x2="323" y2="835.3"/>
<line x1="304" y1="759.6" x2="323" y2="759.6"/>
<line x1="304" y1="608.2" x2="323" y2="608.2"/>
<line x1="304" y1="532.5" x2="323" y2="532.5"/>
<line x1="304" y1="456.7" x2="323" y2="456.7"/>
<line x1="304" y1="305.3" x2="323" y2="305.3"/>
<line x1="304" y1="229.5" x2="323" y2="229.5"/>
<line x1="304" y1="153.8" x2="323" y2="153.8"/>
<line x1="495.5" y1="1590" x2="495.5" y2="1572"/>
<line x1="593" y1="1590" x2="593" y2="1572"/>
<line x1="690.4" y1="1590" x2="690.4" y2="1572"/>
<line x1="885.4" y1="1590" x2="885.4" y2="1572"/>
<line x1="982.8" y1="1590" x2="982.8" y2="1572"/>
<line x1="1080.3" y1="1590" x2="1080.3" y2="1572"/>
<line x1="1275.3" y1="1590" x2="1275.3" y2="1572"/>
<line x1="1372.8" y1="1590" x2="1372.8" y2="1572"/>
<line x1="1470.2" y1="1590" x2="1470.2" y2="1572"/>
<line x1="1665.2" y1="1590" x2="1665.2" y2="1572"/>
<line x1="1762.7" y1="1590" x2="1762.7" y2="1572"/>
<line x1="1860.1" y1="1590" x2="1860.1" y2="1572"/>
</g>
<g font-family="'Liberation Serif', 'Times New Roman', serif" font-weight="bold" fill="#000">
<g font-size="59" text-anchor="end">
<text x="279" y="1611.2" textLength="123.5" lengthAdjust="spacingAndGlyphs">1000</text>
<text x="279" y="1308.3" textLength="123.5" lengthAdjust="spacingAndGlyphs">1200</text>
<text x="279" y="1005.4" textLength="123.5" lengthAdjust="spacingAndGlyphs">1400</text>
<text x="279" y="702.5" textLength="123.5" lengthAdjust="spacingAndGlyphs">1600</text>
<text x="279" y="399.6" textLength="123.5" lengthAdjust="spacingAndGlyphs">1800</text>
<text x="279" y="96.7" textLength="123.5" lengthAdjust="spacingAndGlyphs">2000</text>
</g>
<g font-size="59" text-anchor="middle">
<text x="397.5" y="1653" textLength="138.7" lengthAdjust="spacingAndGlyphs">0.002</text>
<text x="787.4" y="1653" textLength="138.7" lengthAdjust="spacingAndGlyphs">0.004</text>
<text x="1177.3" y="1653" textLength="138.7" lengthAdjust="spacingAndGlyphs">0.006</text>
<text x="1567.2" y="1653" textLength="138.7" lengthAdjust="spacingAndGlyphs">0.008</text>
<text x="1957.1" y="1653" textLength="107.9" lengthAdjust="spacingAndGlyphs">0.01</text>
</g>
<text x="667" y="1753.5" font-size="91" textLength="924" lengthAdjust="spacingAndGlyphs">Micro-burner length [m]</text>
<text transform="translate(103,1154) rotate(-90)" font-size="92" textLength="637" lengthAdjust="spacingAndGlyphs">Temperature [K]</text>
</g>
<g fill="none">
<line x1="1366" y1="327.2" x2="1633" y2="327.2" stroke="#8f8f8f" stroke-width="5.5"/>
<path d="M1500.8 310.4L1514.5 333.4L1487.1 333.4Z" stroke="#3a3a3a" stroke-width="2.5"/>
<line x1="1366" y1="398.4" x2="1633" y2="398.4" stroke="#2a2a2a" stroke-width="2.7"/>
<rect x="1489.2" y="385.5" width="23.8" height="23.8" stroke="#2e2e2e" stroke-width="3"/>
<line x1="1366" y1="467" x2="1633" y2="467" stroke="#000" stroke-width="7.5" stroke-dasharray="39 14 10 13.25"/>
<line x1="1366" y1="538" x2="1633" y2="538" stroke="#000" stroke-width="7.5" stroke-dasharray="39 37.25"/>
<line x1="1366" y1="609.5" x2="1633" y2="609.5" stroke="#000" stroke-width="8"/>
</g>
<g font-family="'Liberation Sans', Arial, sans-serif" font-size="55.5" fill="#000" stroke="#000" stroke-width="1.1">
<text transform="translate(1677,345) scale(1.1275,1)">840</text>
<text transform="translate(1677,416) scale(1.1275,1)">1<tspan dx="-10.4">,</tspan><tspan dx="-5">800</tspan></text>
<text transform="translate(1677,485.5) scale(1.1275,1)">7<tspan dx="-10.4">,</tspan><tspan dx="-5">520</tspan></text>
<text transform="translate(1677,556) scale(1.1275,1)">13<tspan dx="-10.4">,</tspan><tspan dx="-5">500</tspan></text>
<text transform="translate(1677,627) scale(1.1275,1)">15<tspan dx="-10.4">,</tspan><tspan dx="-5">400</tspan></text>
</g>
</svg>
</body>
</html>
